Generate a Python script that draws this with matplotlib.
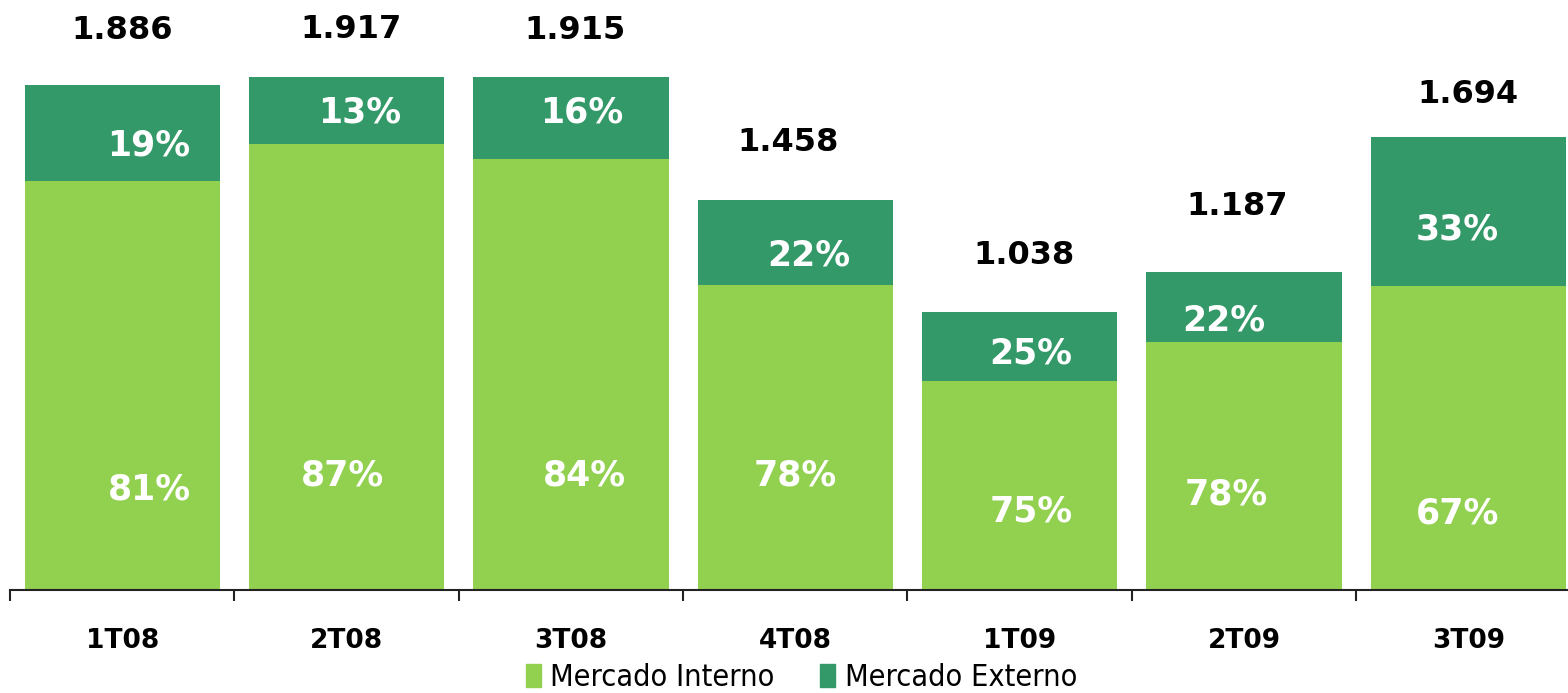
import matplotlib
matplotlib.use("Agg")
import matplotlib.pyplot as plt
from matplotlib.patches import Rectangle
from matplotlib import font_manager
import numpy as np

categories = ["1T08", "2T08", "3T08", "4T08", "1T09", "2T09", "3T09"]
totals = [1886, 1917, 1915, 1458, 1038, 1187, 1694]
total_labels = ["1.886", "1.917", "1.915", "1.458", "1.038", "1.187", "1.694"]
share_interno = [81, 87, 84, 78, 75, 78, 67]
share_externo = [19, 13, 16, 22, 25, 22, 33]

# label placement (data units / category offsets)
lower_label_y = [374, 427, 427, 427, 292, 356, 284]
upper_label_y = [1662, 1785, 1785, 1250, 883, 1007, 1347]
total_label_y = [2089, 2096, 2089, 1673, 1250, 1434, 1853]
lower_dx = [0.12, -0.02, 0.06, 0.0, 0.05, -0.08, -0.05]
upper_dx = [0.12, 0.06, 0.05, 0.06, 0.05, -0.09, -0.05]
total_dx = [0.0, 0.02, 0.02, -0.03, 0.02, -0.03, 0.0]

c_int = "#92D050"
c_ext = "#349968"

names = {f.name for f in font_manager.fontManager.ttflist}
condensed = [f for f in font_manager.fontManager.ttflist
             if f.name == "DejaVu Sans" and f.stretch in ("condensed", "semi-condensed")]
if "Liberation Sans Narrow" in names:
    legend_prop = dict(family="Liberation Sans Narrow", size=23)
elif condensed:
    legend_prop = dict(family="DejaVu Sans", stretch="condensed", size=22)
else:
    legend_prop = dict(family="DejaVu Sans", size=21)

W, H = 1568, 693
fig = plt.figure(figsize=(W / 100, H / 100), dpi=100)
ax = fig.add_axes([10 / W, 1 - 589.5 / H, 1 - 10 / W, 589.5 / H])

x = np.arange(len(categories))
tot = np.array(totals, dtype=float)
lower = tot * np.array(share_interno) / 100.0
upper = tot - lower
ax.bar(x, lower, width=0.87, color=c_int, edgecolor="none")
ax.bar(x, upper, bottom=lower, width=0.87, color=c_ext, edgecolor="none")

font_b = dict(family="DejaVu Sans", fontweight="bold")
for i in range(len(categories)):
    ax.text(x[i] + lower_dx[i], lower_label_y[i], f"{share_interno[i]}%",
            ha="center", va="center", color="white", fontsize=25, **font_b)
    ax.text(x[i] + upper_dx[i], upper_label_y[i], f"{share_externo[i]}%",
            ha="center", va="center", color="white", fontsize=25, **font_b)
    ax.text(x[i] + total_dx[i], total_label_y[i], total_labels[i],
            ha="center", va="center", color="black", fontsize=23, **font_b)

for s in ["top", "right", "left"]:
    ax.spines[s].set_visible(False)
ax.spines["bottom"].set_linewidth(1.5)
ax.spines["bottom"].set_color("#222222")
ax.set_yticks([])
ax.set_xticks(x)
ax.set_xticklabels(categories, fontsize=19, fontweight="bold", family="DejaVu Sans")
ax.tick_params(axis="x", which="major", length=0, pad=28)
ax.set_xticks(np.arange(-0.5, 6.0, 1.0), minor=True)
ax.tick_params(axis="x", which="minor", length=8, width=1.5, color="#222222", direction="out")
ax.set_xlim(-0.5, 6.444)
ax.set_ylim(0, 589 * 3.743)

handles = [Rectangle((0, 0), 1, 1, color=c_int), Rectangle((0, 0), 1, 1, color=c_ext)]
fig.legend(handles, ["Mercado Interno", "Mercado Externo"], loc="center",
           bbox_to_anchor=(0.511, 0.022), ncol=2, frameon=False,
           prop=legend_prop,
           handlelength=0.5, handleheight=0.8, handletextpad=0.3, columnspacing=1.5)

fig.savefig("out.png", dpi=100)
